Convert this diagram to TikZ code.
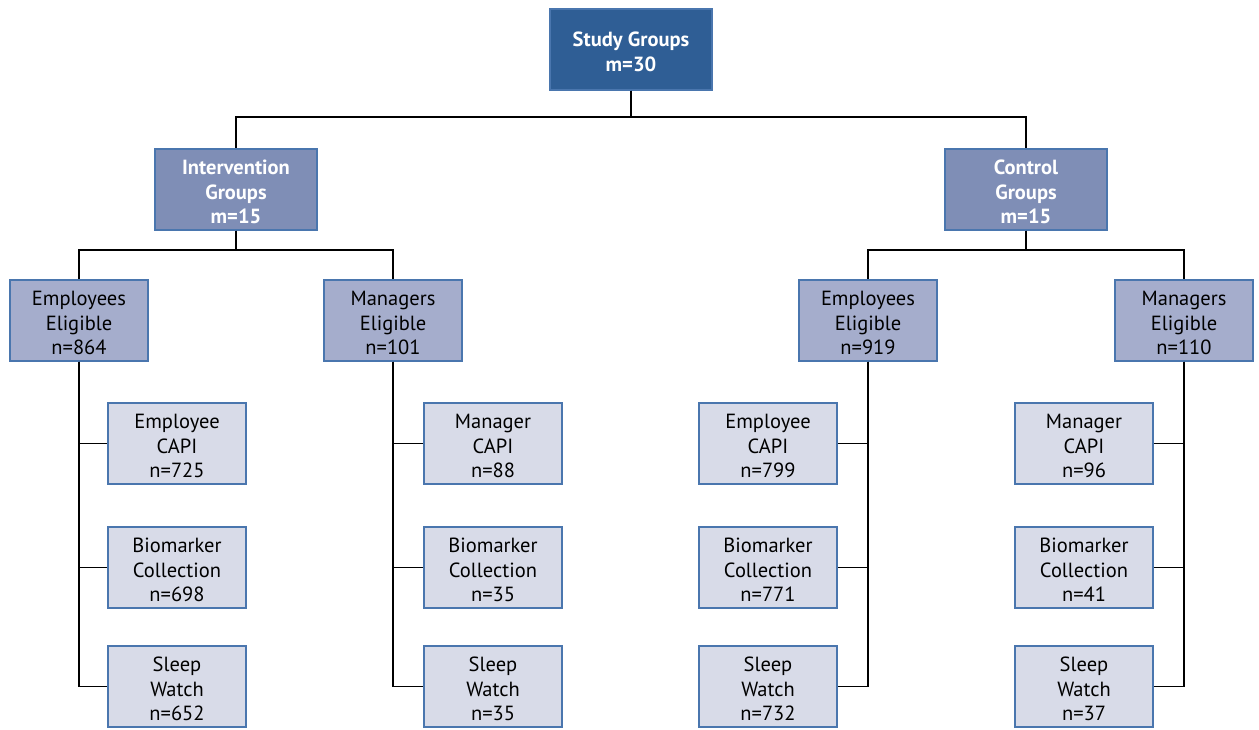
\documentclass[tikz,border=0pt]{standalone}
\usepackage{fontspec}
\setmainfont{PT Sans}
\definecolor{topfill}{HTML}{2F5E95}
\definecolor{midfill}{HTML}{7F8EB6}
\definecolor{elfill}{HTML}{A5ADCC}
\definecolor{leaffill}{HTML}{D8DBE8}
\definecolor{edge}{HTML}{4A76AE}
\newcommand\upstrut{\rule{0pt}{19.5pt}}
\begin{document}
\begin{tikzpicture}[x=1pt,y=-1pt,
  box/.style={draw=edge,line width=1.4pt,align=center,inner sep=0pt,
    font=\fontsize{20.5}{24.5}\selectfont,minimum width=138pt,minimum height=81pt},
  topbox/.style={box,fill=topfill,text=white,font=\fontsize{20.5}{24.5}\selectfont\bfseries,minimum width=162pt},
  midbox/.style={box,fill=midfill,text=white,font=\fontsize{20.5}{24.5}\selectfont\bfseries,minimum width=162pt},
  elbox/.style={box,fill=elfill,text=black},
  leafbox/.style={box,fill=leaffill,text=black},
  conn/.style={draw=black,line width=1.6pt}]
\useasboundingbox (0,0) rectangle (1259,729);
\node[topbox] (sg) at (631,49.5) {\upstrut Study Groups\\m=30};
\node[midbox] (iv) at (236,189.5) {\upstrut Intervention\\Groups\\m=15};
\node[midbox] (cg) at (1026,189.5) {\upstrut Control\\Groups\\m=15};
\node[elbox] (e1) at (79,320.5) {\upstrut Employees\\Eligible\\n=864};
\node[elbox] (m1) at (393,320.5) {\upstrut Managers\\Eligible\\n=101};
\node[elbox] (e2) at (868,320.5) {\upstrut Employees\\Eligible\\n=919};
\node[elbox] (m2) at (1184,320.5) {\upstrut Managers\\Eligible\\n=110};
% leaves
\node[leafbox] (e1a) at (177,443.5) {\upstrut Employee\\CAPI\\n=725};
\node[leafbox] (e1b) at (177,567.5) {\upstrut Biomarker\\Collection\\n=698};
\node[leafbox] (e1c) at (177,686.5) {\upstrut Sleep\\Watch\\n=652};
\node[leafbox] (m1a) at (493,443.5) {\upstrut Manager\\CAPI\\n=88};
\node[leafbox] (m1b) at (493,567.5) {\upstrut Biomarker\\Collection\\n=35};
\node[leafbox] (m1c) at (493,686.5) {\upstrut Sleep\\Watch\\n=35};
\node[leafbox] (e2a) at (768,443.5) {\upstrut Employee\\CAPI\\n=799};
\node[leafbox] (e2b) at (768,567.5) {\upstrut Biomarker\\Collection\\n=771};
\node[leafbox] (e2c) at (768,686.5) {\upstrut Sleep\\Watch\\n=732};
\node[leafbox] (m2a) at (1084,443.5) {\upstrut Manager\\CAPI\\n=96};
\node[leafbox] (m2b) at (1084,567.5) {\upstrut Biomarker\\Collection\\n=41};
\node[leafbox] (m2c) at (1084,686.5) {\upstrut Sleep\\Watch\\n=37};
% connectors
\draw[conn] (sg.south) -- ++(0,26) -| (iv.north);
\draw[conn] (sg.south) -- ++(0,26) -| (cg.north);
\draw[conn] (iv.south) -- ++(0,19) -| (e1.north);
\draw[conn] (iv.south) -- ++(0,19) -| (m1.north);
\draw[conn] (cg.south) -- ++(0,19) -| (e2.north);
\draw[conn] (cg.south) -- ++(0,19) -| (m2.north);
\foreach \p/\a/\b/\c in {e1/e1a/e1b/e1c,m1/m1a/m1b/m1c}{
  \draw[conn] (\p.south) |- (\c.west);
  \draw[conn] (\p.south) |- (\b.west);
  \draw[conn] (\p.south) |- (\a.west);
}
\foreach \p/\a/\b/\c in {e2/e2a/e2b/e2c,m2/m2a/m2b/m2c}{
  \draw[conn] (\p.south) |- (\c.east);
  \draw[conn] (\p.south) |- (\b.east);
  \draw[conn] (\p.south) |- (\a.east);
}
\end{tikzpicture}
\end{document}
